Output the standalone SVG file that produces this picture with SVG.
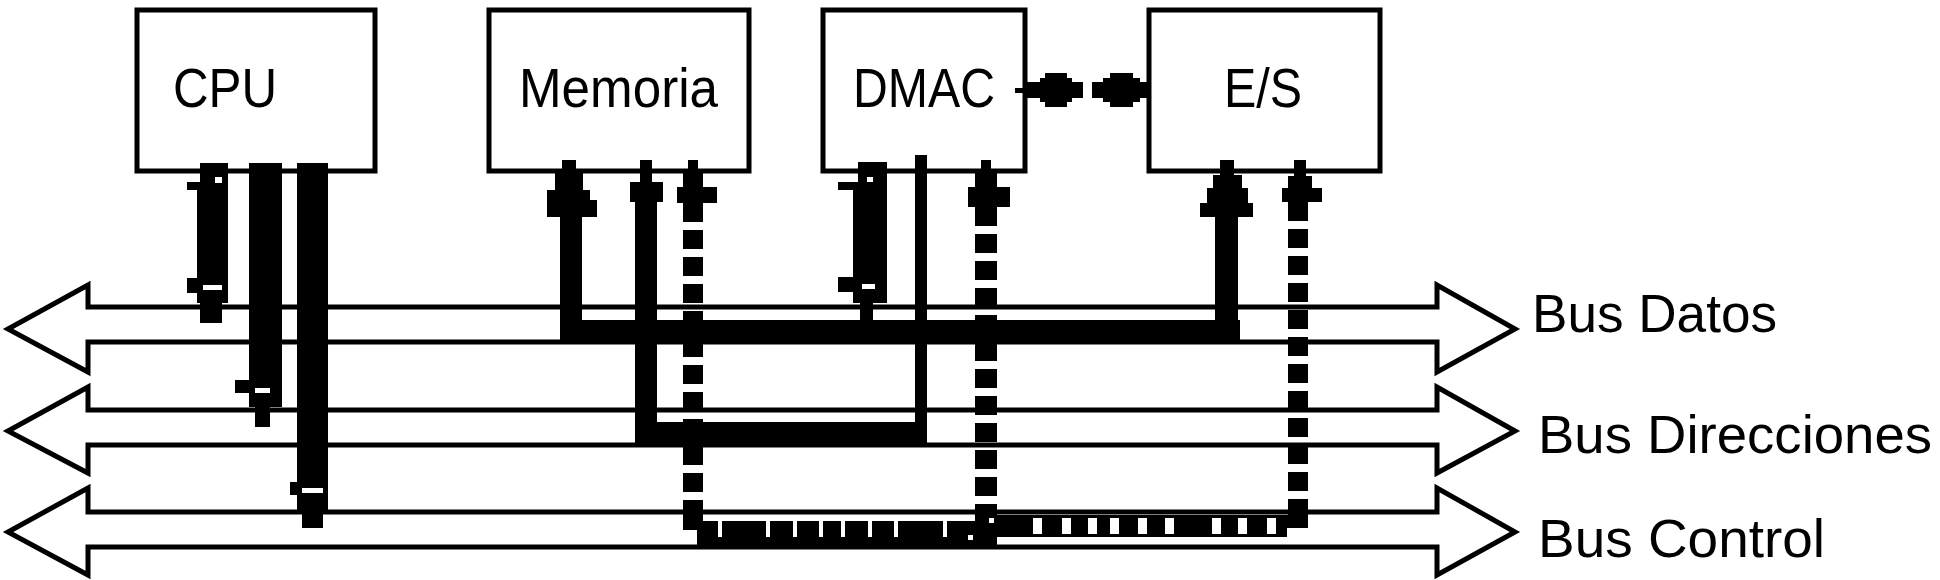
<svg xmlns="http://www.w3.org/2000/svg" width="1940" height="580" viewBox="0 0 1940 580">
<style>
.box{fill:#fff;stroke:#000;stroke-width:5}
.lbl{font-family:"Liberation Sans",Arial,sans-serif;font-size:56px;fill:#000}
.bus{fill:none;stroke:#000;stroke-width:5;stroke-linejoin:miter}
.buslbl{font-family:"Liberation Sans",Arial,sans-serif;font-size:54px;fill:#000}
.k{fill:#000}
.w{fill:#fff}
.dash{fill:none;stroke:#000;stroke-dasharray:19 8}
</style>
<rect width="1940" height="580" fill="#fff"/>

<g id="bus-datos">
<path class="bus" d="M88,307 H1437 V285 L1515,329 L1437,372 V342 H88 V372 L8,329 L88,285 Z"/>
<text class="buslbl" x="1532" y="332" textLength="245" lengthAdjust="spacingAndGlyphs">Bus Datos</text>
</g>
<g id="bus-direcciones">
<path class="bus" d="M88,410 H1437 V387 L1515,431 L1437,473 V445 H88 V473 L8,431 L88,387 Z"/>
<text class="buslbl" x="1538" y="453" textLength="394" lengthAdjust="spacingAndGlyphs">Bus Direcciones</text>
</g>
<g id="bus-control">
<path class="bus" d="M88,512 H1437 V488 L1515,532 L1437,575 V547 H88 V575 L8,532 L88,488 Z"/>
<text class="buslbl" x="1538" y="557" textLength="287" lengthAdjust="spacingAndGlyphs">Bus Control</text>
</g>

<g id="cpu">
<rect class="box" x="137" y="10" width="238" height="161"/>
<text class="lbl" x="173" y="107" textLength="104" lengthAdjust="spacingAndGlyphs">CPU</text>
</g>
<g id="memoria">
<rect class="box" x="489" y="10" width="260" height="161"/>
<text class="lbl" x="519" y="107" textLength="199" lengthAdjust="spacingAndGlyphs">Memoria</text>
</g>
<g id="dmac">
<rect class="box" x="823" y="10" width="202" height="161"/>
<text class="lbl" x="853" y="107" textLength="142" lengthAdjust="spacingAndGlyphs">DMAC</text>
</g>
<g id="es">
<rect class="box" x="1149" y="10" width="231" height="161"/>
<text class="lbl" x="1224" y="107" textLength="78" lengthAdjust="spacingAndGlyphs">E/S</text>
</g>

<g id="connectors">
<!-- CPU data -->
<path class="k" d="M200,163 H228 V303 H222 V323 H200 V303 H197 V190 H200 Z"/>
<rect class="k" x="187" y="182" width="13" height="8"/>
<rect class="k" x="187" y="278" width="12" height="15"/>
<rect class="w" x="215" y="177" width="7" height="6"/>
<rect class="w" x="203" y="285" width="19" height="5"/>
<!-- CPU address -->
<path class="k" d="M249,163 H282 V407 H270 V427 H255 V407 H249 Z"/>
<rect class="k" x="235" y="380" width="15" height="13"/>
<rect class="w" x="255" y="388" width="15" height="5"/>
<!-- CPU control -->
<path class="k" d="M297,163 H328 V510 H323 V528 H302 V510 H297 Z"/>
<rect class="k" x="290" y="482" width="8" height="13"/>
<rect class="w" x="302" y="488" width="21" height="5"/>

<!-- Data path: Memoria / DMAC / E/S -->
<polygon class="k" points="562,160 576,160 576,173 583,173 583,190 590,190 590,200 597,200 597,217 582,217 582,342 560,342 560,217 547,217 547,190 555,190 555,173 562,173"/>
<rect class="k" x="560" y="320" width="680" height="22"/>
<polygon class="k" points="1220,160 1234,160 1234,175 1242,175 1242,188 1248,188 1248,203 1253,203 1253,217 1238,217 1238,342 1215,342 1215,217 1200,217 1200,203 1207,203 1207,188 1213,188 1213,175 1220,175"/>
<path class="k" d="M858,162 H887 V303 H873 V320 H860 V303 H853 V190 H858 Z"/>
<rect class="k" x="838" y="182" width="20" height="8"/>
<rect class="k" x="838" y="277" width="15" height="15"/>
<rect class="w" x="867" y="177" width="6" height="5"/>
<rect class="w" x="862" y="284" width="13" height="5"/>

<!-- Address path -->
<polygon class="k" points="640,160 652,160 652,182 663,182 663,202 657,202 657,442 635,442 635,202 630,202 630,182 640,182"/>
<rect class="k" x="635" y="422" width="292" height="22"/>
<rect class="k" x="915" y="155" width="12" height="289"/>

<!-- Control path -->
<polygon class="k" points="688,160 698,160 698,173 703,173 703,187 717,187 717,203 677,203 677,187 683,187 683,173 688,173"/>
<line class="dash" x1="693" y1="203" x2="693" y2="515" stroke-width="20"/>
<rect class="k" x="683" y="515" width="20" height="15"/>
<rect class="k" x="697" y="521" width="293" height="26"/>
<rect class="w" x="718" y="520" width="4" height="17"/>
<rect class="w" x="766" y="520" width="4" height="17"/>
<rect class="w" x="793" y="520" width="4" height="17"/>
<rect class="w" x="819" y="520" width="4" height="17"/>
<rect class="w" x="841" y="520" width="4" height="17"/>
<rect class="w" x="868" y="520" width="4" height="17"/>
<rect class="w" x="894" y="520" width="4" height="17"/>
<rect class="w" x="943" y="520" width="4" height="17"/>

<polygon class="k" points="981,160 991,160 991,173 997,173 997,187 1010,187 1010,207 968,207 968,187 975,187 975,173 981,173"/>
<line class="dash" x1="986" y1="207" x2="986" y2="547" stroke-width="22"/>

<rect class="k" x="990" y="515" width="297" height="22"/>
<rect class="k" x="1287" y="515" width="21" height="13"/>
<rect class="w" x="1033" y="518" width="9" height="16"/>
<rect class="w" x="1062" y="518" width="9" height="16"/>
<rect class="w" x="1088" y="518" width="9" height="16"/>
<rect class="w" x="1110" y="518" width="9" height="16"/>
<rect class="w" x="1138" y="518" width="9" height="16"/>
<rect class="w" x="1165" y="518" width="9" height="16"/>
<rect class="w" x="1212" y="518" width="9" height="16"/>
<rect class="w" x="1238" y="518" width="9" height="16"/>
<rect class="w" x="1267" y="518" width="9" height="16"/>
<rect class="w" x="989" y="518" width="5" height="5"/>
<rect class="w" x="968" y="535" width="5" height="5"/>

<polygon class="k" points="1294,160 1306,160 1306,176 1312,176 1312,188 1322,188 1322,202 1282,202 1282,188 1288,188 1288,176 1294,176"/>
<line class="dash" x1="1298" y1="202" x2="1298" y2="528" stroke-width="20"/>

<!-- DMAC <-> E/S -->
<rect class="k" x="1015" y="88" width="12" height="5"/>
<rect class="k" x="1025" y="82" width="58" height="16"/>
<rect class="k" x="1092" y="82" width="55" height="16"/>
<rect class="k" x="1040" y="78" width="32" height="24"/>
<rect class="k" x="1045" y="73" width="22" height="34"/>
<rect class="k" x="1103" y="78" width="37" height="24"/>
<rect class="k" x="1110" y="73" width="23" height="34"/>
</g>
</svg>
